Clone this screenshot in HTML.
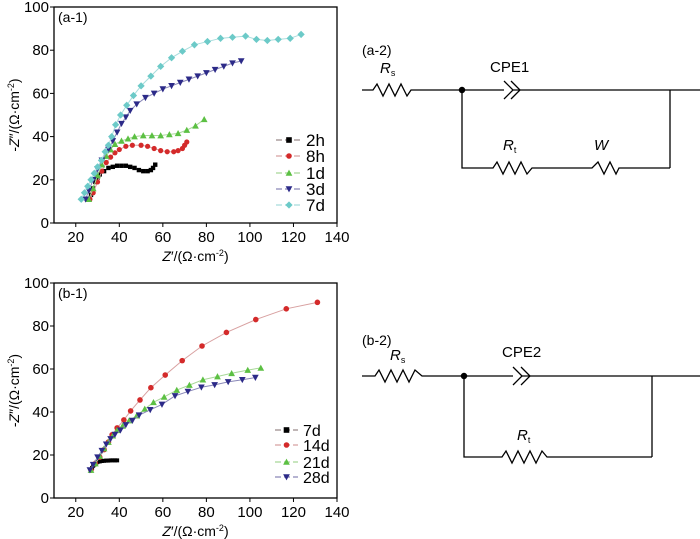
<!DOCTYPE html>
<html><head><meta charset="utf-8"><style>
body{margin:0;background:#fff;}
svg{display:block;font-family:"Liberation Sans",sans-serif;}
</style></head><body>
<svg id="s" width="700" height="539" viewBox="0 0 700 539">
<g id="c1" fill="none" stroke="#000" stroke-width="1.3">
<text x="362" y="55" font-size="14" stroke="none" fill="#000">(a-2)</text>
<polyline points="362,90 373,90 377,84 383,96 389,84 395,96 401,84 407,96 411,90 462,90 504,90"/>
<circle cx="462" cy="90" r="2.6" fill="#000"/>
<polyline points="504,81 513,90 504,99"/><polyline points="511,81 520,90 511,99"/>
<line x1="513" y1="90" x2="700" y2="90"/>
<line x1="670" y1="90" x2="670" y2="168"/>
<polyline points="462,90 462,168 493,168 497,162 503,174 509,162 515,174 521,162 527,174 532,168 592,168 598,162 604,174 610,162 616,174 619,168 670,168"/>
<text x="380" y="73" font-size="15" stroke="none" fill="#000" font-style="italic">R<tspan font-size="9" font-style="normal" dy="3">s</tspan></text>
<text x="490" y="72" font-size="15" stroke="none" fill="#000">CPE1</text>
<text x="503" y="150" font-size="15" stroke="none" fill="#000" font-style="italic">R<tspan font-size="9" font-style="normal" dy="3">t</tspan></text>
<text x="594" y="150" font-size="15" stroke="none" fill="#000" font-style="italic">W</text>
</g>
<g id="c2" fill="none" stroke="#000" stroke-width="1.3">
<text x="362" y="345" font-size="14" stroke="none" fill="#000">(b-2)</text>
<polyline points="362,376 375,376 379,370 385,382 391,370 397,382 403,370 409,382 415,370 422,376 464,376 513,376"/>
<circle cx="464" cy="376" r="2.6" fill="#000"/>
<polyline points="513,367 522,376 513,385"/><polyline points="521,367 530,376 521,385"/>
<line x1="522" y1="376" x2="700" y2="376"/>
<line x1="652" y1="376" x2="652" y2="457"/>
<polyline points="464,376 464,457 502,457 506,451 512,463 518,451 524,463 530,451 536,463 542,451 547,457 652,457"/>
<text x="390" y="360" font-size="15" stroke="none" fill="#000" font-style="italic">R<tspan font-size="9" font-style="normal" dy="3">s</tspan></text>
<text x="502" y="357" font-size="15" stroke="none" fill="#000">CPE2</text>
<text x="517" y="440" font-size="15" stroke="none" fill="#000" font-style="italic">R<tspan font-size="9" font-style="normal" dy="3">t</tspan></text>
</g>
</svg>
<script>
const xTicks=[20,40,60,80,100,120,140];
const yTicks=[0,20,40,60,80,100];
const aNames=["2h","8h","1d","3d","7d"];
const a2h=[[26,11],[27,13],[28,16],[29,19],[30,21],[31,22.5],[33,24],[35,25.5],[37,26],[39,26.5],[41,26.5],[43,26.5],[45,26],[47,25.5],[49,24.5],[51,24],[53,24],[54.5,24.5],[55.5,25.5],[56.5,27]];
const a8h=[[26.5,11],[28,14],[30,19],[32,24],[34,28],[36,30.5],[38,32.5],[40,34],[43,35.5],[46,36],[50,36],[53,35.5],[56,34.5],[59,33.5],[62,33],[65,33],[67,33.5],[69,34.5],[70,36],[71,37.5]];
const a1d=[[26,11],[28,16],[30,22],[32,27],[34,31],[36,34],[38,36.5],[41,38],[44,39],[47,40],[51,40.5],[55,40.5],[59,40.5],[63,41],[67,41.5],[71,43],[75,45],[79,48]];
const a3d=[[24.5,11],[26,15],[28,20],[30,25],[32,29],[35,34],[37,38],[39,42],[41,46],[43,49],[45,52],[48,55],[52,58],[56,60],[60,62],[64,63.5],[68,65],[72,66.5],[76,68],[80,69.5],[84,71],[88,72.5],[92,74],[96,75]];
const a7d=[[22.5,11],[24,14],[25.5,17],[27,20],[28.5,23],[30,26],[31.8,29],[33.5,33],[35,36],[36.5,40],[38.3,45.5],[40.6,50],[43.4,54.5],[46.5,59],[50,63.5],[54.5,68],[59,72.5],[64,76.5],[69,79.5],[74.5,82.5],[80.5,84],[86.5,85.5],[92,86],[98,86.5],[103,85],[108,84.5],[113,85],[118.5,85.5],[123.5,87.3]];
const bNames=["7d","14d","21d","28d"];
const b7d=[[27,13],[27.5,14],[28,15],[28.5,15.5],[29,16],[29.5,16.5],[30,16.8],[31,17],[32,17.2],[33,17.3],[34,17.4],[35,17.4],[36,17.5],[37,17.5],[38,17.5],[39,17.5]];
const b14d=[[27,13],[29,16],[31,19],[33,22.5],[35,26],[36.7,29.4],[39,32.6],[42.1,36.3],[45.2,40.5],[49.5,45.6],[54.5,51.3],[61.1,57.2],[68.9,63.9],[78,70.7],[89.2,77],[102.7,83],[116.7,88],[131,91]];
const b21d=[[27,13],[29,16],[31,19.5],[33,23],[35,26],[37,29],[39,31.5],[41.5,33.5],[44.5,36],[48,38.3],[51.7,41.4],[55.7,44.5],[60.6,47],[66.4,50.2],[72.2,52.5],[78.4,55],[85.1,56.5],[91.6,58],[99,59.5],[105,60.5]];
const b28d=[[26.5,13],[28,15.5],[30,19],[32,22],[34,25],[36,27.5],[38,29.5],[40.5,31.5],[43,34],[46,36],[49.1,38.5],[54.2,41],[59.6,43.5],[65.6,47.5],[71.5,49.5],[77.7,51.5],[83.8,52.6],[90,54],[96.5,55],[102.5,56]];
const aSeries=[a2h,a8h,a1d,a3d,a7d];
const bSeries=[b7d,b14d,b21d,b28d];
const NS="http://www.w3.org/2000/svg";
const svg=document.getElementById('s');
function mk(t,attrs,parent){const e=document.createElementNS(NS,t);for(const k in attrs)e.setAttribute(k,attrs[k]);(parent||svg).appendChild(e);return e;}
function marker(g,shape,cx,cy,col,r){
  let e;
  if(shape==='sq') e=mk('rect',{x:cx-r,y:cy-r,width:2*r,height:2*r,fill:col},g);
  else if(shape==='ci') e=mk('circle',{cx:cx,cy:cy,r:r,fill:col},g);
  else if(shape==='tu') e=mk('polygon',{points:`${cx},${cy-r*1.2} ${cx-r*1.2},${cy+r} ${cx+r*1.2},${cy+r}`,fill:col},g);
  else if(shape==='td') e=mk('polygon',{points:`${cx},${cy+r*1.2} ${cx-r*1.2},${cy-r} ${cx+r*1.2},${cy-r}`,fill:col},g);
  else e=mk('polygon',{points:`${cx},${cy-r*1.3} ${cx+r*1.3},${cy} ${cx},${cy+r*1.3} ${cx-r*1.3},${cy}`,fill:col},g);
  
  
  return e;
}
function chart(id,top,bot,label,series,names,colors,lcolors,shapes,legY,sizes,lx1,lx2,tx0,lfs){
  const L=54,R=337;
  const sx=v=>L+(v-10)*(R-L)/130;
  const sy=v=>bot-v*(bot-top)/100;
  const g=mk('g',{});
  
  
  const box=mk('rect',{x:L,y:top,width:R-L,height:bot-top,fill:'none',stroke:'#000','stroke-width':1.3},g);
  
  
  xTicks.forEach(t=>{mk('line',{x1:sx(t),x2:sx(t),y1:bot,y2:bot+4,stroke:'#000'},g);
    const tx=mk('text',{x:sx(t),y:bot+19,'font-size':15,'text-anchor':'middle'},g);tx.textContent=t;
    
    });
  yTicks.forEach(t=>{mk('line',{x1:L-4,x2:L,y1:sy(t),y2:sy(t),stroke:'#000'},g);
    const tx=mk('text',{x:L-5,y:sy(t)+5,'font-size':15,'text-anchor':'end'},g);tx.textContent=t;
    
    });
  const lb=mk('text',{x:L+4,y:top+15,'font-size':14},g);lb.textContent=label;
  
  
  const xt=mk('text',{x:(L+R)/2,y:bot+38,'font-size':14,'text-anchor':'middle'},g);
  xt.innerHTML='<tspan font-style="italic">Z</tspan>′/(Ω·cm<tspan font-size="9" dy="-5">-2</tspan><tspan dy="5">)</tspan>';
  
  
  const yt=mk('text',{x:0,y:0,'font-size':14,'text-anchor':'middle',transform:`translate(19,${(top+bot)/2}) rotate(-90)`},g);
  yt.innerHTML='-<tspan font-style="italic">Z</tspan>″/(Ω·cm<tspan font-size="9" dy="-5">-2</tspan><tspan dy="5">)</tspan>';
  
  
  series.forEach((s,i)=>{
    const sg=mk('g',{},g);
    
    
    mk('polyline',{points:s.map(p=>sx(p[0])+','+sy(p[1])).join(' '),fill:'none',stroke:lcolors[i],'stroke-width':1},sg);
    s.forEach(p=>marker(sg,shapes[i],sx(p[0]),sy(p[1]),colors[i],sizes[i]));
    const lg=mk('g',{},g);
    
    
    const y=legY[i];
    mk('line',{x1:lx1,x2:lx2,y1:y,y2:y,stroke:lcolors[i],'stroke-width':1.2,'stroke-dasharray':'6,3'},lg);
    marker(lg,shapes[i],(lx1+lx2)/2,y,colors[i],2.8);
    const t=mk('text',{x:tx0,y:y+6,'font-size':lfs},lg);t.textContent=names[i];
  });
}
chart('chart-a1',7,223,'(a-1)',aSeries,aNames,
  ['#000','#d42a2a','#5cc043','#2c2a88','#6ccac8'],
  ['#9a8a8a','#d8a0a0','#a8d898','#8a88b8','#a8dcdc'],
  ['sq','ci','tu','td','di'],[140,156,173,189,205],[2.2,2.6,2.8,2.8,2.8],276,302,306,17);
chart('chart-b1',283,498,'(b-1)',bSeries,bNames,
  ['#000','#d42a2a','#5cc043','#2c2a88'],
  ['#9a8a8a','#d8a0a0','#a8d898','#8a88b8'],
  ['sq','ci','tu','td'],[430,445,462,477],[2,2.8,2.8,2.8],275,298,303,16);
</script>
</body></html>
